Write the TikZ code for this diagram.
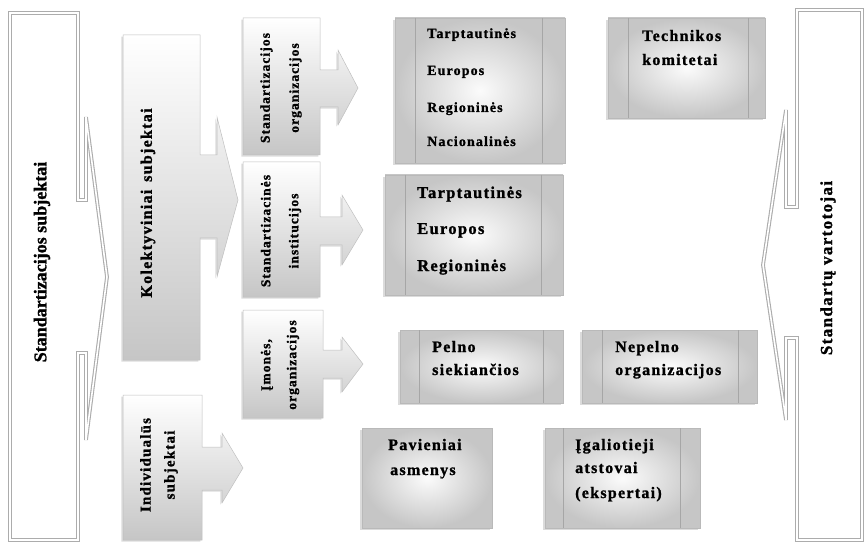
\documentclass[tikz,border=0pt]{standalone}
\usepackage{fontspec}
\setmainfont{Liberation Serif}
\newfontfamily\heavy{Liberation Serif Bold}[FakeBold=1.2]
\newfontfamily\spaced{Liberation Serif Bold}[LetterSpace=8, FakeBold=1.2]
\usetikzlibrary{shadows}
\newcommand\fsz[2]{\fontsize{#1}{#2}\selectfont}

\tikzset{
  bigarrow/.style={draw=gray!65, line width=1.1pt, double=white,
    double distance=1.6pt, line join=miter},
  softshadow/.style={drop shadow={shadow xshift=-1.6pt, shadow yshift=-1.6pt,
    opacity=0.35, fill=gray!80}},
  blockarrow/.style={draw=gray!50, line width=0.5pt, top color=white,
    bottom color=gray!45, softshadow},
  panel/.style={draw=gray!55, line width=0.5pt, inner color=gray!3,
    outer color=gray!45, softshadow},
  stripe/.style={draw=gray!70, line width=0.7pt},
  vlabel/.style={rotate=90, align=center, inner sep=0pt},
  itemtext/.style={anchor=base west, inner sep=0pt}
}

\begin{document}
\begin{tikzpicture}[x=1pt,y=-1pt]
\useasboundingbox (0,0) rectangle (864,545);

% outer double-line arrows
\draw[bigarrow] (10,13) -- (78,13) -- (78,200) -- (86,200) -- (86,117)
  -- (107,277) -- (86,440) -- (86,353) -- (78,353) -- (78,540)
  -- (10,540) -- cycle;
\draw[bigarrow] (862,10) -- (797,10) -- (797,207) -- (786,207) -- (786,110)
  -- (763,265) -- (786,420) -- (786,338) -- (797,338) -- (797,540)
  -- (862,540) -- cycle;

% second column block arrows
\path[blockarrow] (123,35) -- (200,35) -- (200,155) -- (217,155) -- (217,117)
  -- (238,200) -- (217,277) -- (217,238) -- (200,238) -- (200,360)
  -- (123,360) -- cycle;
\path[blockarrow] (123,395) -- (202,395) -- (202,447) -- (222,447) -- (222,433)
  -- (243,468) -- (222,503) -- (222,490) -- (202,490) -- (202,540)
  -- (123,540) -- cycle;

% third column block arrows
\path[blockarrow] (243,18) -- (320,18) -- (320,70) -- (338,70) -- (338,50)
  -- (358,88) -- (338,125) -- (338,107) -- (320,107) -- (320,155)
  -- (243,155) -- cycle;
\path[blockarrow] (243,162) -- (320,162) -- (320,217) -- (342,217) -- (342,195)
  -- (363,230) -- (342,265) -- (342,245) -- (320,245) -- (320,297)
  -- (243,297) -- cycle;
\path[blockarrow] (243,310) -- (323,310) -- (323,350) -- (342,350) -- (342,337)
  -- (363,364) -- (342,392) -- (342,378) -- (323,378) -- (323,418)
  -- (243,418) -- cycle;

% panels with side stripes
\path[panel] (395,18) rectangle (565,163);
\draw[stripe] (415,18) -- (415,163) (542,18) -- (542,163);
\path[panel] (385,175) rectangle (563,295);
\draw[stripe] (405,175) -- (405,295) (541,175) -- (541,295);
\path[panel] (608,18) rectangle (765,118);
\draw[stripe] (628,18) -- (628,118) (748,18) -- (748,118);
\path[panel] (400,330) rectangle (563,403);
\draw[stripe] (419,330) -- (419,403) (543,330) -- (543,403);
\path[panel] (582,330) rectangle (757,403);
\draw[stripe] (602,330) -- (602,403) (738,330) -- (738,403);
\path[panel] (362,428) rectangle (492,528);
\path[panel] (545,428) rectangle (700,528);
\draw[stripe] (563,428) -- (563,528) (680,428) -- (680,528);

% vertical captions
\node[vlabel, font=\heavy\fsz{18}{22}] (subj) at (42,262)
  {Standartizacijos subjektai};
\node[vlabel, font=\spaced\fsz{17}{22}] (users) at (828,268)
  {Standartų vartotojai};
\node[vlabel, font=\spaced\fsz{16}{20}] (coll) at (148,203)
  {Kolektyviniai\, subjektai};
\node[vlabel, font=\spaced\fsz{15}{24}] (indiv) at (159,465)
  {Individualūs\\subjektai};
\node[vlabel, font=\spaced\fsz{13.5}{29}] (sorg) at (281,88)
  {Standartizacijos\\organizacijos};
\node[vlabel, font=\spaced\fsz{13.5}{28}] (sinst) at (281,231)
  {Standartizacinės\\institucijos};
\node[vlabel, font=\spaced\fsz{13.5}{26}] (firms) at (280,365)
  {Įmonės,\\organizacijos};

% panel texts
\begin{scope}[every node/.append style={itemtext, font=\spaced\fsz{14}{17}}]
  \node (a1) at (427,38) {Tarptautinės};
  \node (a2) at (427,75) {Europos};
  \node (a3) at (427,112) {Regioninės};
  \node (a4) at (427,146) {Nacionalinės};
\end{scope}
\begin{scope}[every node/.append style={itemtext, font=\spaced\fsz{16.5}{20}}]
  \node (b1) at (417,198) {Tarptautinės};
  \node (b2) at (417,234) {Europos};
  \node (b3) at (417,271) {Regioninės};
\end{scope}
\begin{scope}[every node/.append style={itemtext, font=\spaced\fsz{16}{20}}]
  \node (t1) at (642,41) {Technikos};
  \node (t2) at (642,65) {komitetai};
  \node (p1) at (432,352) {Pelno};
  \node (p2) at (432,375) {siekiančios};
  \node (n1) at (615,352) {Nepelno};
  \node (n2) at (615,375) {organizacijos};
  \node (v1) at (388,450) {Pavieniai};
  \node (v2) at (390,475) {asmenys};
  \node (e1) at (575,450) {Įgaliotieji};
  \node (e2) at (575,473) {atstovai};
  \node (e3) at (575,498) {(ekspertai)};
\end{scope}
\end{tikzpicture}
\end{document}
